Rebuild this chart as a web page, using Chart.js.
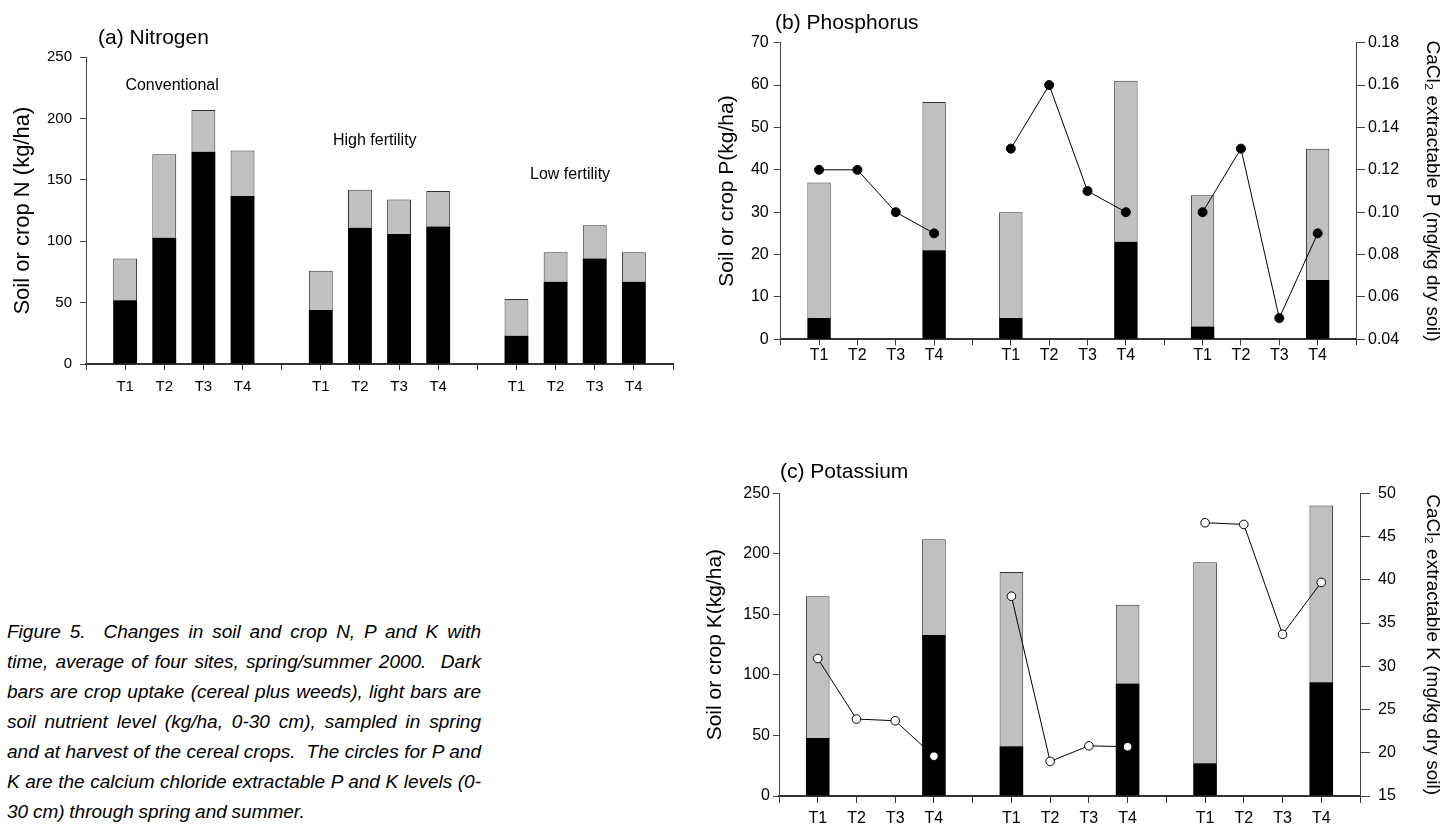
<!DOCTYPE html>
<html>
<head>
<meta charset="utf-8">
<title>Figure 5</title>
<script src="https://cdn.jsdelivr.net/npm/chart.js@4.4.1/dist/chart.umd.min.js"></script>
<style>
    body { margin: 0; width: 1442px; height: 824px; background: #fff; position: relative; overflow: hidden; }
    canvas { position: absolute; }
    #caption {
        position: absolute; left: 7px; top: 617px; width: 474px;
        font-family: 'Liberation Sans', Arial, sans-serif; font-style: italic;
        font-size: 19px; line-height: 30px; word-spacing: -0.5px; color: #000;
    }
    #caption div { text-align: justify; text-align-last: justify; white-space: nowrap; }
    #caption div.last { text-align-last: left; }
</style>
</head>
<body>
<canvas id="chartN" width="690" height="400" style="left:0;top:0"></canvas>
<canvas id="chartP" width="752" height="400" style="left:690px;top:0"></canvas>
<canvas id="chartK" width="752" height="424" style="left:690px;top:400px"></canvas>

<div id="caption">
    <div>Figure 5.&nbsp; Changes in soil and crop N, P and K with</div>
    <div>time, average of four sites, spring/summer 2000.&nbsp; Dark</div>
    <div>bars are crop uptake (cereal plus weeds), light bars are</div>
    <div>soil nutrient level (kg/ha, 0-30 cm), sampled in spring</div>
    <div>and at harvest of the cereal crops.&nbsp; The circles for P and</div>
    <div>K are the calcium chloride extractable P and K levels (0-</div>
    <div class="last">30 cm) through spring and summer.</div>
</div>

<script>
const FONT = "'Liberation Sans', Arial, Helvetica, sans-serif";
Chart.defaults.font.family = FONT;
Chart.defaults.color = '#000';
Chart.defaults.animation = false;
Chart.defaults.plugins.legend.display = false;
Chart.defaults.plugins.tooltip.enabled = false;

// categories
const timeLabels = ['T1', 'T2', 'T3', 'T4'];
const groupNames = ['Conventional', 'High fertility', 'Low fertility'];

// (a) Nitrogen (kg/ha) - 3 groups x T1..T4
const nCrop = [52, 103, 173, 137, 44, 111, 106, 112, 23, 67, 86, 67];
const nSoil = [34, 68, 34, 37, 32, 31, 28, 29, 30, 24, 27, 24];

// (b) Phosphorus (kg/ha), CaCl2 extractable P (mg/kg)
const pCrop = [5, null, null, 21, 5, null, null, 23, 3, null, null, 14];
const pSoil = [32, null, null, 35, 25, null, null, 38, 31, null, null, 31];
const pCaCl2 = [0.12, 0.12, 0.10, 0.09, 0.13, 0.16, 0.11, 0.10, 0.10, 0.13, 0.05, 0.09];

// (c) Potassium (kg/ha), CaCl2 extractable K (mg/kg)
const kCrop = [48, null, null, 133, 41, null, null, 93, 27, null, null, 94];
const kSoil = [117, null, null, 79, 144, null, null, 65, 166, null, null, 146];
const kCaCl2 = [30.9, 23.9, 23.7, 19.6, 38.1, 19.0, 20.8, 20.7, 46.6, 46.4, 33.7, 39.7];

// tick labels
const nTicks = [0, 50, 100, 150, 200, 250];
const pTicks = [0, 10, 20, 30, 40, 50, 60, 70];
const pRightTicks = [0.04, 0.06, 0.08, 0.10, 0.12, 0.14, 0.16, 0.18];
const kTicks = [0, 50, 100, 150, 200, 250];
const kRightTicks = [15, 20, 25, 30, 35, 40, 45, 50];

// an empty slot before, between and after the three groups
function toSlots(vals) {
    const out = [null];
    for (let g = 0; g < 3; g++) {
        out.push(...vals.slice(g * 4, g * 4 + 4), null);
    }
    return out;
}
const xLabels = toSlots(timeLabels.concat(timeLabels, timeLabels)).map(v => v || '');

const panelTitle = {
    id: 'panelTitle',
    afterDraw(chart, args, opts) {
        if (!opts.text) return;
        const { ctx, chartArea } = chart;
        ctx.save();
        ctx.font = opts.font;
        ctx.fillStyle = '#000';
        ctx.textAlign = 'left';
        ctx.textBaseline = 'middle';
        ctx.fillText(opts.text, chartArea.left + opts.dx, chartArea.top + opts.dy);
        ctx.restore();
    }
};

const groupLabels = {
    id: 'groupLabels',
    afterDatasetsDraw(chart, args, opts) {
        if (!opts.items) return;
        const { ctx, scales } = chart;
        ctx.save();
        ctx.font = opts.font;
        ctx.fillStyle = '#000';
        ctx.textAlign = 'center';
        ctx.textBaseline = 'middle';
        opts.items.forEach(it => {
            ctx.fillText(it.text, scales.x.getPixelForValue(it.x), scales.y.getPixelForValue(it.y));
        });
        ctx.restore();
    }
};

function catAxis(c) {
    return {
        type: 'category', offset: false, stacked: true,
        border: { color: '#333', width: 2 },
        grid: { drawOnChartArea: false, offset: false, color: '#333', tickLength: c.tick },
        ticks: { autoSkip: false, maxRotation: 0, minRotation: 0, padding: c.pad, font: { size: c.size } },
        afterFit: s => { s.height = c.h; }
    };
}

function valAxis(c) {
    return {
        type: 'linear', position: c.pos, stacked: !!c.stacked,
        min: c.ticks[0], max: c.ticks[c.ticks.length - 1],
        border: { color: '#444', width: 1 },
        grid: { drawOnChartArea: false, color: '#444', tickLength: c.tick },
        ticks: { stepSize: c.ticks[1] - c.ticks[0], padding: c.pad, font: { size: c.size }, callback: c.fmt },
        title: { display: true, text: c.title, font: { size: c.tsize, lineHeight: c.tlh || 1.2 }, padding: { top: c.tpad, bottom: 0 } },
        afterFit: s => { s.width = c.w; }
    };
}

function barSets(crop, soil) {
    return [
        { type: 'bar', data: toSlots(crop), backgroundColor: '#000', borderWidth: 0,
          categoryPercentage: 1, barPercentage: 0.61, stack: 's', order: 1 },
        { type: 'bar', data: toSlots(soil), backgroundColor: '#c0c0c0', borderColor: '#333', borderWidth: 1,
          categoryPercentage: 1, barPercentage: 0.61, stack: 's', order: 2 }
    ];
}

// (a) Nitrogen
new Chart(document.getElementById('chartN'), {
    type: 'bar',
    data: { labels: xLabels, datasets: barSets(nCrop, nSoil) },
    options: {
        responsive: false, devicePixelRatio: 1,
        layout: { padding: { top: 57.3, right: 17, left: 0, bottom: 0 } },
        scales: {
            x: catAxis({ tick: 6, pad: 8, size: 15, h: 36 }),
            y: valAxis({ pos: 'left', stacked: true, ticks: nTicks, tick: 6, pad: 8, size: 15,
                         title: 'Soil or crop N (kg/ha)', tsize: 22, tpad: 9.8, w: 86 })
        },
        plugins: {
            panelTitle: { text: '(a) Nitrogen', font: '21px ' + FONT, dx: 12, dy: -19.3 },
            groupLabels: {
                font: '16px ' + FONT,
                items: [
                    { text: groupNames[0], x: 2.2, y: 226.6 },
                    { text: groupNames[1], x: 7.38, y: 181.8 },
                    { text: groupNames[2], x: 12.37, y: 154 }
                ]
            }
        }
    },
    plugins: [panelTitle, groupLabels]
});

// (b) Phosphorus
new Chart(document.getElementById('chartP'), {
    type: 'bar',
    data: {
        labels: xLabels,
        datasets: [
            { type: 'line', data: toSlots(pCaCl2), yAxisID: 'y1', borderColor: '#000', borderWidth: 1,
              pointRadius: 4.5, pointBackgroundColor: '#000', pointBorderColor: '#000', pointBorderWidth: 1,
              spanGaps: false, order: 0 },
            ...barSets(pCrop, pSoil)
        ]
    },
    options: {
        responsive: false, devicePixelRatio: 1,
        layout: { padding: { top: 42.7, right: 0, left: 0, bottom: 0 } },
        scales: {
            x: catAxis({ tick: 6, pad: 1, size: 16, h: 60.7 }),
            y: valAxis({ pos: 'left', stacked: true, ticks: pTicks, tick: 7, pad: 5, size: 16,
                         title: 'Soil or crop P(kg/ha)', tsize: 21, tpad: 24.4, w: 90.7 }),
            y1: valAxis({ pos: 'right', ticks: pRightTicks, tick: 9, pad: 3, size: 16, fmt: v => v.toFixed(2),
                          title: 'CaCl\u2082 extractable P (mg/kg dry soil)', tsize: 19, tlh: 1, tpad: 0.5, w: 86 })
        },
        plugins: {
            panelTitle: { text: '(b) Phosphorus', font: '21px ' + FONT, dx: -5.7, dy: -19.7 }
        }
    },
    plugins: [panelTitle]
});

// (c) Potassium
new Chart(document.getElementById('chartK'), {
    type: 'bar',
    data: {
        labels: xLabels,
        datasets: [
            { type: 'line', data: toSlots(kCaCl2), yAxisID: 'y1', borderColor: '#000', borderWidth: 1,
              pointRadius: 4.3, pointBackgroundColor: '#fff', pointBorderColor: '#000', pointBorderWidth: 1,
              spanGaps: false, order: 0 },
            ...barSets(kCrop, kSoil)
        ]
    },
    options: {
        responsive: false, devicePixelRatio: 1,
        layout: { padding: { top: 93.3, right: 0, left: 0, bottom: 0 } },
        scales: {
            x: catAxis({ tick: 7, pad: 6, size: 16, h: 28 }),
            y: valAxis({ pos: 'left', stacked: true, ticks: kTicks, tick: 6, pad: 3, size: 16,
                         title: 'Soil or crop K(kg/ha)', tsize: 21, tpad: 12.4, w: 89 }),
            y1: valAxis({ pos: 'right', ticks: kRightTicks, tick: 10, pad: 8, size: 16,
                          title: 'CaCl\u2082 extractable K (mg/kg dry soil)', tsize: 19, tlh: 1, tpad: 0.5, w: 82 })
        },
        plugins: {
            panelTitle: { text: '(c) Potassium', font: '21px ' + FONT, dx: 1, dy: -20.6 }
        }
    },
    plugins: [panelTitle]
});
</script>
</body>
</html>
